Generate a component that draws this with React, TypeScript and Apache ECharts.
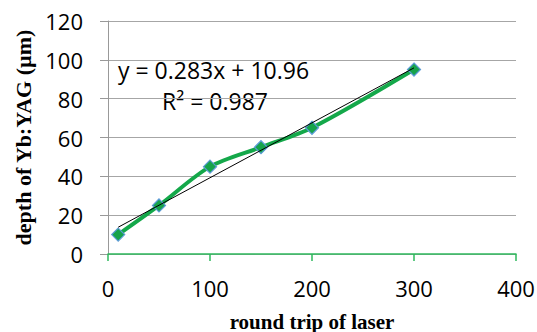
import React, { useEffect, useRef } from "react";
import * as echarts from "echarts";

const roundTrips = [10, 50, 100, 150, 200, 300];
const depths = [10, 25, 45, 55, 65, 95];
const slope = 0.283;
const intercept = 10.96;
const trendX = [10, 300];
const equationText = "y = 0.283x + 10.96";
const r2Text = "R² = 0.987";

export default function App() {
  const ref = useRef<HTMLDivElement>(null);
  useEffect(() => {
    if (!ref.current) return;
    const chart = echarts.init(ref.current, null, { renderer: "svg" });
    const tickFont = { fontFamily: "Open Sans", fontSize: 22, color: "#000" };
    chart.setOption({
      animation: false,
      grid: { left: 108, right: 21, top: 21, bottom: 78, containLabel: false, outerBoundsMode: "none" },
      xAxis: {
        type: "value",
        min: 0,
        max: 400,
        interval: 100,
        name: "round trip of laser",
        nameLocation: "middle",
        nameGap: 57,
        nameTextStyle: { fontFamily: "Liberation Serif", fontWeight: "bold", fontSize: 21, color: "#000" },
        axisLine: { show: true, lineStyle: { color: "#2eb85c", width: 1.5 } },
        axisTick: { show: true, inside: false, length: 7, lineStyle: { color: "#2eb85c", width: 1.5 } },
        axisLabel: { ...tickFont, margin: 23 },
        splitLine: { show: false },
      },
      yAxis: {
        type: "value",
        min: 0,
        max: 120,
        interval: 20,
        name: "depth of Yb:YAG (µm)",
        nameLocation: "middle",
        nameGap: 73,
        nameTextStyle: { fontFamily: "Liberation Serif", fontWeight: "bold", fontSize: 22, color: "#000" },
        axisLine: { show: true, lineStyle: { color: "#999", width: 1 } },
        axisTick: { show: true, length: 8, lineStyle: { color: "#999", width: 1 } },
        axisLabel: { ...tickFont, margin: 25 },
        splitLine: { show: true, lineStyle: { color: "#a6a6a6", width: 1.2 } },
      },
      series: [
        {
          type: "line",
          data: roundTrips.map((x, i) => [x, depths[i]]),
          smooth: 0.3,
          lineStyle: { color: "#14a84a", width: 4 },
          symbol: "diamond",
          symbolSize: 13,
          itemStyle: { color: "#16a34a", borderColor: "#5b9bd5", borderWidth: 1.2 },
          z: 3,
        },
        {
          type: "line",
          data: trendX.map((x) => [x, slope * x + intercept]),
          symbol: "none",
          lineStyle: { color: "#000", width: 1 },
          z: 4,
        },
      ],
      graphic: [
        { type: "text", left: 118, top: 58, style: { text: equationText, font: "23px 'Open Sans'", fill: "#000" } },
        { type: "text", left: 162, top: 89, style: { text: r2Text, font: "23px 'Open Sans'", fill: "#000" } },
      ],
    });
    return () => chart.dispose();
  }, []);
  return <div ref={ref} style={{ width: 537, height: 332, position: "absolute", left: 0, top: 0 }} />;
}
